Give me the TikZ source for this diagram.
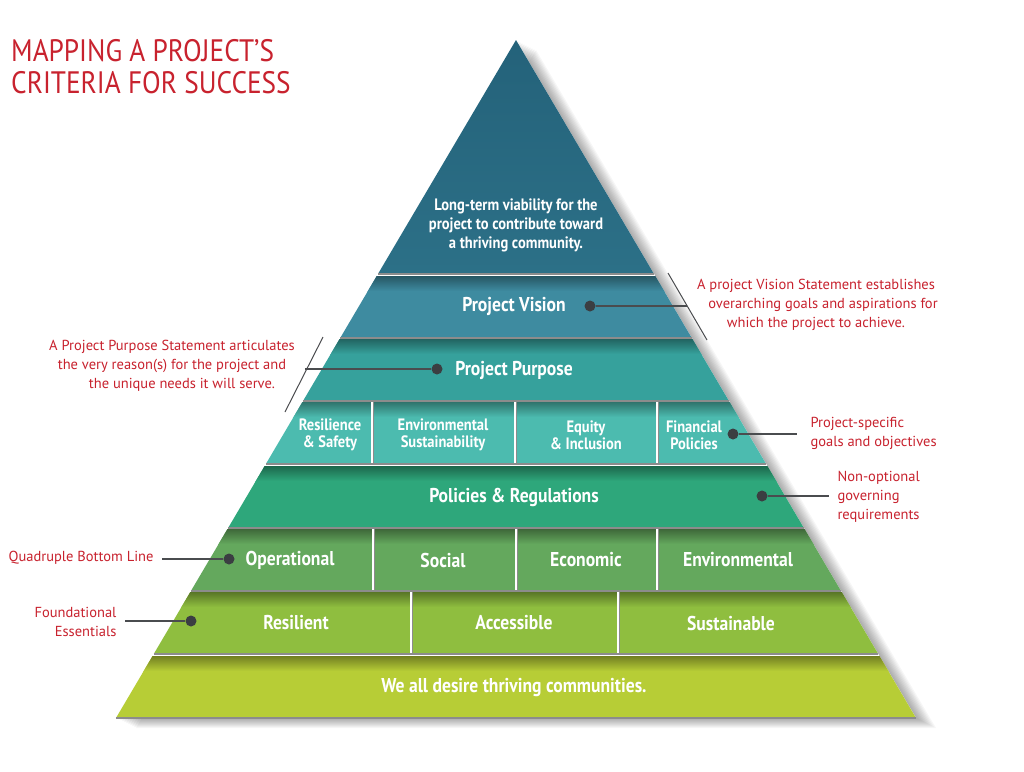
\documentclass[tikz,border=0pt]{standalone}
\usepackage{fontspec}
\setmainfont{PT Sans}
\newfontfamily\narrowfont[FakeStretch=0.88]{PT Sans}
\usetikzlibrary{positioning}

\definecolor{cTopA}{HTML}{24627A}
\definecolor{cTopB}{HTML}{2C7087}
\definecolor{cVision}{HTML}{3E8BA0}
\definecolor{cPurpose}{HTML}{36A19C}
\definecolor{cGoals}{HTML}{4CBBAF}
\definecolor{cPolicy}{HTML}{2EA77B}
\definecolor{cQuad}{HTML}{64A85D}
\definecolor{cFound}{HTML}{8FBE3F}
\definecolor{cBase}{HTML}{B7CD36}
\definecolor{notered}{HTML}{C8222E}
\definecolor{dotgray}{HTML}{3B3E42}
\definecolor{linegray}{HTML}{4A4C4F}
\definecolor{seamgray}{HTML}{8C8C8C}

% left and right edge of the pyramid at height y
\newcommand{\lx}[1]{516-0.59*(#1-40)}
\newcommand{\rx}[1]{516+0.59*(#1-40)}

\tikzset{
  band label/.style={text=white,align=center,font=\narrowfont\bfseries\fontsize{20}{22}\selectfont},
  box label/.style={text=white,align=center,font=\narrowfont\bfseries\fontsize{16.5}{17}\selectfont},
  note/.style={text=notered,font=\fontsize{14.5}{19}\selectfont},
  pin dot/.style={circle,fill=dotgray,inner sep=0pt,minimum size=11pt},
  pin line/.style={draw=linegray,line width=1.3pt},
  divider/.style={draw=white,line width=2.2pt},
}

\begin{document}
\begin{tikzpicture}[x=1pt,y=-1pt]
\useasboundingbox (0,0) rectangle (1024,771);
\fill[white] (0,0) rectangle (1024,771);

% soft shadow to the right
\foreach \o in {2,4,...,20}
  \fill[black,opacity=0.035,shift={(\o,0.5*\o)}] (516,40) -- ({\rx{718}},718) -- ({\lx{718}},718) -- cycle;
\fill[white] (516,40) -- ({\rx{718}},718) -- ({\lx{718}},718) -- cycle;

% top triangle
\shade[top color=cTopA,bottom color=cTopB] (516,40) -- ({\rx{273}},273) -- ({\lx{273}},273) -- cycle;
\draw[seamgray,line width=2.5pt] ({\lx{274}},274) -- ({\rx{274}},274);

% bands
\foreach \t/\c in {276/cVision,339/cPurpose,402/cGoals,466/cPolicy,529/cQuad,592/cFound,656/cBase}{
  \pgfmathsetmacro\b{\t+61}
  \begin{scope}
    \clip ({\lx{\t}},\t) -- ({\rx{\t}},\t) -- ({\rx{\b}},\b) -- ({\lx{\b}},\b) -- cycle;
    \fill[\c] (0,\t) rectangle (1024,\b);
    \shade[top color=\c!62!black,bottom color=\c] (0,\t) rectangle (1024,\t+15);
  \end{scope}
  \draw[seamgray,line width=2.5pt] ({\lx{\b+1}},\b+1) -- ({\rx{\b+1}},\b+1);
}

% dividers
\foreach \x/\t in {372/402,515/402,657/402,373/529,516/529,657/529,411/592,618/592}{
  \draw[seamgray,line width=1pt] (\x+1.8,\t) -- (\x+1.8,\t+61);
  \draw[divider] (\x,\t) -- (\x,\t+61);
}

% texts on the pyramid
\node[box label,font=\narrowfont\bfseries\fontsize{16.5}{19}\selectfont] (viability) at (516,225)
  {Long-term viability for the\\project to contribute toward\\a thriving community.};
\node[band label] (vision) at (514,306) {Project Vision};
\node[band label] (purpose) at (514,370) {Project Purpose};
\node[box label] (safety) at (330,435) {Resilience\\\& Safety};
\node[box label] (envsust) at (443,435) {Environmental\\Sustainability};
\node[box label] (equity) at (586,435) {Equity\\\& Inclusion};
\node[box label] (financial) at (694,435) {Financial\\Policies};
\node[band label] (policies) at (514,497) {Policies \& Regulations};
\node[band label] (operational) at (290,560) {Operational};
\node[band label] (social) at (443,560) {Social};
\node[band label] (economic) at (586,560) {Economic};
\node[band label] (environmental) at (738,560) {Environmental};
\node[band label] (resilient) at (296,623) {Resilient};
\node[band label] (accessible) at (514,623) {Accessible};
\node[band label] (sustainable) at (731,623) {Sustainable};
\node[band label] (thriving) at (514,687) {We all desire thriving communities.};

% title
\node[anchor=base west,inner sep=0pt,text=notered,font=\narrowfont\fontsize{31}{32}\selectfont] (title1) at (11,61) {MAPPING A PROJECT’S};
\node[anchor=base west,inner sep=0pt,text=notered,font=\narrowfont\fontsize{31}{32}\selectfont] (title2) at (11,93) {CRITERIA FOR SUCCESS};

% vision note
\node[pin dot] (vdot) at (590,306) {};
\coordinate (vend) at (687,306);
\coordinate (vbar1) at (668,273);
\coordinate (vbar2) at (707,340);
\draw[pin line] (vdot) -- (vend);
\draw[pin line,line width=1pt] (vbar1) -- (vbar2);
\node[note,align=center] (vnote) at (816,305)
  {A project Vision Statement establishes\\\hspace*{14pt}overarching goals and aspirations for\\which the project to achieve.};

% purpose note
\node[pin dot] (pdot) at (437,369) {};
\coordinate (pend) at (305,369);
\coordinate (pbar1) at (323,337);
\coordinate (pbar2) at (285,412);
\draw[pin line] (pdot) -- (pend);
\draw[pin line,line width=1pt] (pbar1) -- (pbar2);
\node[note,align=center] (pnote) at (172,366)
  {A Project Purpose Statement articulates\\the very reason(s) for the project and\\\hspace*{20pt}the unique needs it will serve.};

% goals note
\node[pin dot] (gdot) at (733,434) {};
\coordinate (gend) at (797,434);
\draw[pin line] (gdot) -- (gend);
\node[note,align=left,anchor=west] (gnote) at (807,433) {Project-specific\\goals and objectives};

% policies note
\node[pin dot] (rdot) at (762,496) {};
\coordinate (rend) at (829,496);
\draw[pin line] (rdot) -- (rend);
\node[note,align=left,anchor=west] (rnote) at (834,497) {Non-optional\\governing\\requirements};

% bottom line note
\node[pin dot] (qdot) at (229,559) {};
\coordinate (qend) at (162,559);
\draw[pin line] (qdot) -- (qend);
\node[note,anchor=east] (qnote) at (157,558) {Quadruple Bottom Line};

% foundational note
\node[pin dot] (fdot) at (191,621) {};
\coordinate (fend) at (125,621);
\draw[pin line] (fdot) -- (fend);
\node[note,align=right,anchor=east] (fnote) at (120,622) {Foundational\\Essentials};
\end{tikzpicture}
\end{document}
